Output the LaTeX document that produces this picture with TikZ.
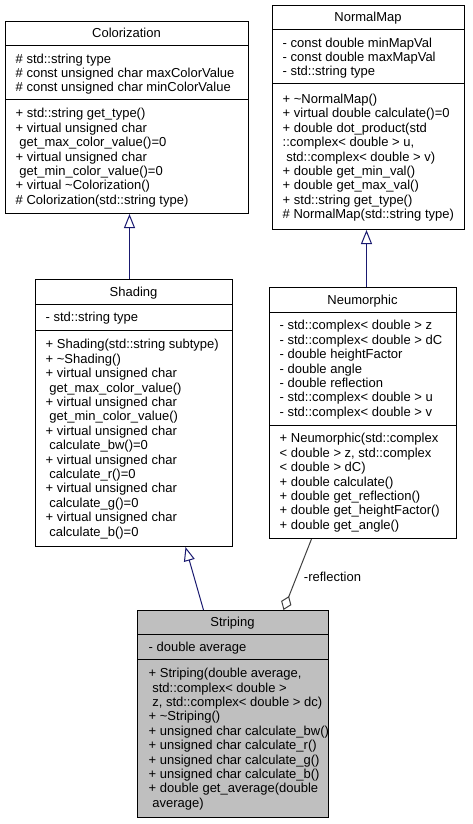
\documentclass[tikz,border=0pt]{standalone}
\usepackage{fontspec}
\setmainfont{Liberation Sans}
\usetikzlibrary{arrows.meta}
\definecolor{navyline}{HTML}{191970}
\definecolor{grayline}{HTML}{404040}
\definecolor{stripfill}{HTML}{BFBFBF}
\newcommand\umllines[4]{%
  \foreach \umltext [count=\k from 0] in {#4} {
    \node[txt] (#3\k) at (#1, #2+\k*14.4) {\umltext};
  }%
}
\begin{document}
\begin{tikzpicture}[x=1pt, y=-1pt,
  every node/.style={font=\fontsize{13}{14.4}\selectfont},
  box/.style={draw=black, line width=1pt, inner sep=0pt, anchor=north west},
  txt/.style={inner sep=0pt, anchor=base west, text=black},
  ttl/.style={inner sep=0pt, anchor=base, text=black},
  divline/.style={draw=black, line width=1pt},
  inh/.style={draw=navyline, line width=1pt, -{Triangle[open, length=14pt, width=11pt]}},
  agg/.style={draw=grayline, line width=1pt, -{Diamond[open, length=15pt, width=11pt]}},
  lbl/.style={inner sep=0pt, anchor=west, text=black}]
\fill[white] (0,0) rectangle (472,824);
\useasboundingbox (0,0) rectangle (472,824);

% ---------- Colorization ----------
\node[box, minimum width=243pt, minimum height=192pt] (colorization) at (5,21) {};
\draw[divline] ([yshift=-25pt]colorization.north west) -- ([yshift=-25pt]colorization.north east);
\draw[divline] ([yshift=-79pt]colorization.north west) -- ([yshift=-79pt]colorization.north east);
\node[ttl] (colorizationT) at (126.5,38) {Colorization};
\umllines{15.5}{63.1}{colA}{\# std::string type, \# const unsigned char maxColorValue, \# const unsigned char minColorValue}
\umllines{15.5}{117.8}{colM}{+ std::string get\_type(), + virtual unsigned char, \ get\_max\_color\_value()=0, + virtual unsigned char, \ get\_min\_color\_value()=0, + virtual \textasciitilde Colorization(), \# Colorization(std::string type)}

% ---------- NormalMap ----------
\node[box, minimum width=192pt, minimum height=224pt] (normalmap) at (272,5) {};
\draw[divline] ([yshift=-25pt]normalmap.north west) -- ([yshift=-25pt]normalmap.north east);
\draw[divline] ([yshift=-79pt]normalmap.north west) -- ([yshift=-79pt]normalmap.north east);
\node[ttl] (normalmapT) at (368,21.5) {NormalMap};
\umllines{282.5}{47.1}{nmA}{- const double minMapVal, - const double maxMapVal, - std::string type}
\umllines{282.5}{103.4}{nmM}{+ \textasciitilde NormalMap(), + virtual double calculate()=0, + double dot\_product(std, {::complex< double > u,}, \ std::complex< double > v), + double get\_min\_val(), + double get\_max\_val(), + std::string get\_type(), \# NormalMap(std::string type)}

% ---------- Shading ----------
\node[box, minimum width=197pt, minimum height=267pt] (shading) at (35,279) {};
\draw[divline] ([yshift=-25pt]shading.north west) -- ([yshift=-25pt]shading.north east);
\draw[divline] ([yshift=-51pt]shading.north west) -- ([yshift=-51pt]shading.north east);
\node[ttl] (shadingT) at (133.5,296) {Shading};
\umllines{45.5}{321.5}{shA}{- std::string type}
\umllines{45.5}{348.9}{shM}{+ Shading(std::string subtype), + \textasciitilde Shading(), + virtual unsigned char, \ get\_max\_color\_value(), + virtual unsigned char, \ get\_min\_color\_value(), + virtual unsigned char, \ calculate\_bw()=0, + virtual unsigned char, \ calculate\_r()=0, + virtual unsigned char, \ calculate\_g()=0, + virtual unsigned char, \ calculate\_b()=0}

% ---------- Neumorphic ----------
\node[box, minimum width=187pt, minimum height=251pt] (neumorphic) at (269,287) {};
\draw[divline] ([yshift=-25pt]neumorphic.north west) -- ([yshift=-25pt]neumorphic.north east);
\draw[divline] ([yshift=-138pt]neumorphic.north west) -- ([yshift=-138pt]neumorphic.north east);
\node[ttl] (neumorphicT) at (362.5,304) {Neumorphic};
\umllines{279.5}{329.8}{neA}{- std::complex< double > z, - std::complex< double > dC, - double heightFactor, - double angle, - double reflection, - std::complex< double > u, - std::complex< double > v}
\umllines{279.5}{442.8}{neM}{+ Neumorphic(std::complex, {< double > z, std::complex}, < double > dC), + double calculate(), + double get\_reflection(), + double get\_heightFactor(), + double get\_angle()}

% ---------- Striping ----------
\node[box, fill=stripfill, minimum width=191pt, minimum height=207pt] (striping) at (137,610) {};
\draw[divline] ([yshift=-24pt]striping.north west) -- ([yshift=-24pt]striping.north east);
\draw[divline] ([yshift=-49pt]striping.north west) -- ([yshift=-49pt]striping.north east);
\node[ttl] (stripingT) at (232.5,626.5) {Striping};
\umllines{148.5}{651}{stA}{- double average}
\umllines{148.5}{677.7}{stM}{{+ Striping(double average,}, \ std::complex< double >, {\ z, std::complex< double > dc)}, + \textasciitilde Striping(), + unsigned char calculate\_bw(), + unsigned char calculate\_r(), + unsigned char calculate\_g(), + unsigned char calculate\_b(), + double get\_average(double, \ average)}

% ---------- connectors ----------
\draw[inh] ([xshift=-4.5pt]shading.north) -- ([xshift=-4.5pt]shading.north |- colorization.south);
\draw[inh] ([xshift=3.5pt]neumorphic.north) -- ([xshift=3.5pt]neumorphic.north |- normalmap.south);
\draw[inh] ([xshift=-29.5pt]striping.north) -- ([xshift=51.5pt]shading.south);
\draw[agg] ([xshift=-51.5pt]neumorphic.south) -- ([xshift=50.5pt]striping.north)
  node[lbl, pos=0.53, xshift=6.8pt] (reflectionL) {-reflection};
\end{tikzpicture}
\end{document}
